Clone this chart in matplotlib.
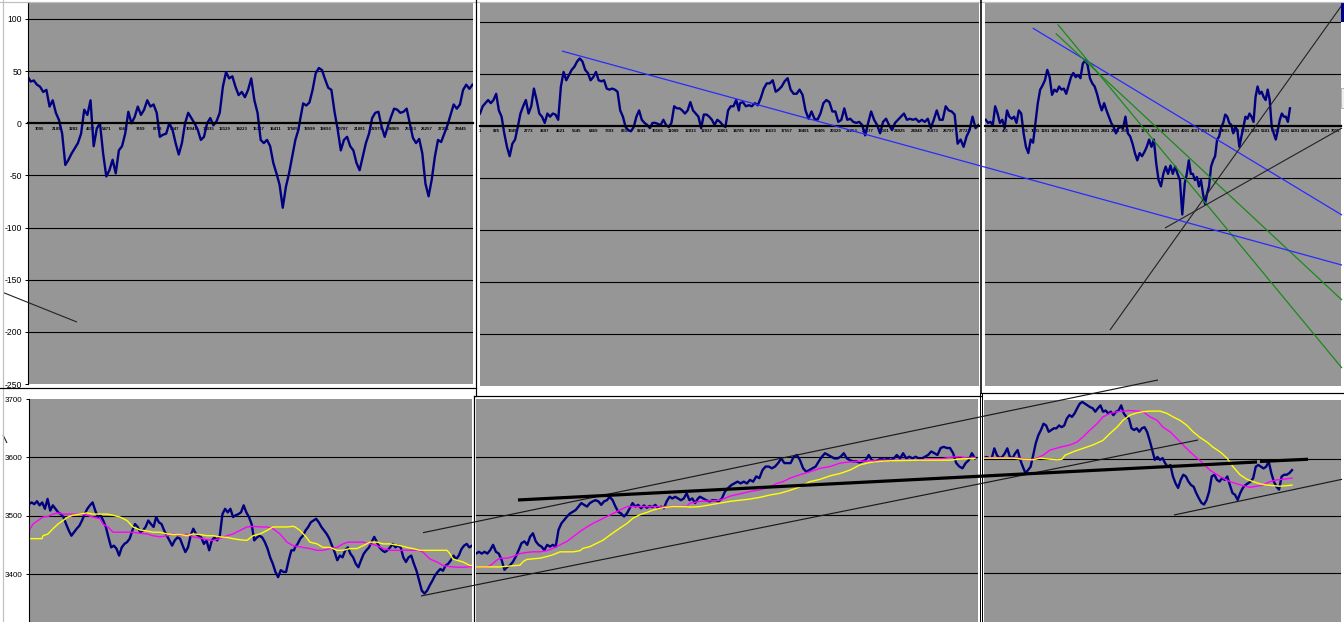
import numpy as np
import matplotlib
matplotlib.use("Agg")
import matplotlib.pyplot as plt
from matplotlib.patches import Rectangle

plt.rcParams["font.family"] = ["Liberation Sans", "DejaVu Sans"]

# ---------------- top row: spread oscillator, three windows ----------------
top1_a = [45, 40, 41, 37, 35, 30, 32, 16, 22, 10, 3, -10, -40, -35, -29, -24, -19, -10, 13, 8,
          22, -22, -5, 0, -29, -51, -45, -35, -48, -26, -22, -10, 11, 0, 6, 16, 8, 13, 22, 16,
          18, 10, -13, -11, -10, 0, -6, -19, -30, -19, 0, 10, 5, 0, -6, -16, -13, 0, 5, -2,
          2, 10, 35, 49, 43, 45, 35, 27, 30, 25, 32, 43, 22, 10, -16, -19, -16, -22, -38, -48,
          -59, -81, -61, -48, -32, -16, -6]
top1_b = [3, 19, 17, 20, 32, 48, 53, 51, 42, 34, 32, 11, -6, -26, -16, -13, -22, -26, -38, -45,
          -32, -19, -10, 5, 10, 11, -3, -13, -3, 6, 14, 13, 10, 11, 14, 0, -14, -19, -15, -29,
          -58, -70, -54, -32, -16, -18, -10, -2, 8, 18, 14, 18, 32, 37, 33, 37]
top2_a = [12, 19, 22, 25, 22, 25, 31, 15, 9, -7, -20, -29, -17, -13, -1, 12, 19, 25, 12, 19,
          36, 25, 12, 9, 3, 12, 9, 12, 11, 6, 38, 52, 44, 49, 54, 57, 62, 65, 62, 54,
          51, 44, 47, 52, 44, 43, 44, 36, 35, 36, 35, 33, 15, 9, -1, -4, -5, -1, 9, 15,
          6, 3, 1, -2, 3, 3, 2, 1, 6, 1, -1, 3, 19, 17, 17, 15, 12, 15, 23, 15,
          12, 9, -2, 11, 11, 9, 6, 1, 6, 4, 1, -1, 15, 19, 19, 25, 15]
top2_b = [22, 23, 19, 20, 19, 22, 20, 27, 36, 41, 41, 44, 33, 35, 38, 43, 46, 35, 31, 31,
          35, 30, 15, 7, 14, 7, 6, 12, 22, 25, 23, 14, 14, 4, 6, 17, 6, 7, 4, 3,
          4, 1, -9, 3, 14, 6, 1, -7, 4, 7, 1, -4, 3, 6, 9, 12, 6, 7, 6, 7,
          4, 6, 4, 7, -2, 6, 15, 6, 6, 19, 15, 14, 11, -17, -13, -20, -10, -4, 9, -2, 1]
top3_a = [6, 3, 4, 1, 19, 12, 3, 6, -2, 15, 9, 7, 9, 3, 15, 12, -7, -20, -26, -13,
          -16, 3, 22, 35, 39, 44, 54, 47, 30, 35, 33, 38, 35, 36, 31, 39, 47, 51, 47, 49,
          46, 60, 63, 59, 46, 41, 38, 31, 22, 15, 22, 15, 9, 3, -1, -7, -2, -1, -2, 9,
          -7, -10, -17, -26, -33, -26, -29, -25, -20, -13, -20, -13, -36, -52, -58, -46, -39, -46,
          -38, -46, -39, -46, -52, -85]
top3_b = [-55, -46, -33, -46, -46, -52, -49, -58, -52, -65, -75, -65, -58, -39, -33, -29,
          -13, -10, -1, 3, 11, 9, 3, 1, -7, -1, -4, -20, -10, -1, 9, 7, 12, 9, 4, 28,
          38, 31, 33, 28, 25, 35, 25, -1, -7, -13, -4, 6, 12, 9, 9, 4, 17]

top_grid = [100, 50, -50, -100, -150, -200]
top_yticks = [100, 50, 0, -50, -100, -150, -200, -250]
top1_xticks = [1095, 2189, 3283, 4377, 5471, 6565, 7659, 8753, 9847, 10941, 12035, 13129, 14223,
               15317, 16411, 17505, 18599, 19693, 20787, 21881, 22975, 24069, 25163, 26257,
               27351, 28445]
top2_xticks = [1, 925, 1849, 2773, 3697, 4621, 5545, 6469, 7393, 8317, 9241, 10165, 11089, 12013,
               12937, 13861, 14785, 15709, 16633, 17557, 18481, 19405, 20329, 21253, 22177,
               23101, 24025, 24949, 25873, 26797, 27721]
top3_xticks = [1, 201, 401, 601, 801, 1001, 1201, 1401, 1601, 1801, 2001, 2201, 2401, 2601, 2801,
               3001, 3201, 3401, 3601, 3801, 4001, 4201, 4401, 4601, 4801, 5001, 5201, 5401,
               5601, 5801, 6001, 6201, 6401, 6601, 6801, 7001]

# ---------------- bottom row: price with two moving averages ----------------
bot1_a = [3520, 3523, 3520, 3525, 3518, 3523, 3512, 3529, 3509, 3518, 3512, 3506, 3503, 3498, 3486,
          3475, 3466, 3472, 3478, 3483, 3492, 3503, 3512, 3518, 3523, 3509, 3498, 3501, 3492, 3481,
          3463, 3446, 3449, 3444, 3432, 3446, 3452, 3455, 3461, 3475, 3486, 3481, 3472, 3475, 3481,
          3492, 3486, 3481, 3498, 3489, 3486, 3475, 3466, 3458, 3449, 3458, 3463, 3461, 3449, 3438,
          3446, 3466, 3478, 3469, 3466, 3463, 3452, 3458, 3441, 3458, 3463, 3458, 3466, 3503, 3512,
          3506, 3512, 3498, 3501, 3503, 3506, 3518, 3506, 3498, 3486, 3458, 3463, 3466, 3463, 3455,
          3444, 3429, 3418, 3404, 3395, 3407, 3404, 3404, 3424, 3441, 3441]
bot1_b = [3446, 3452, 3461, 3466, 3475, 3481, 3489, 3492, 3495, 3489, 3481, 3475, 3469, 3461, 3449,
          3438, 3424, 3432, 3429, 3441, 3446, 3435, 3429, 3418, 3412, 3424, 3435, 3441, 3446, 3455,
          3464, 3455, 3446, 3441, 3438, 3441, 3446, 3452, 3446, 3449, 3446, 3429, 3421, 3429, 3432,
          3418, 3406, 3389, 3372, 3367, 3372, 3381, 3389, 3398, 3404, 3409, 3406, 3415, 3418, 3424,
          3432, 3426, 3432, 3443, 3449, 3452, 3446, 3449]
bot1_mag_x = [0, 4, 9, 14, 19, 24, 29, 34, 39, 44, 51, 58, 64, 71, 74, 79, 84, 91, 98, 104,
              111, 118, 124, 131, 138, 144, 151, 158, 164, 171, 178, 184, 191, 198, 204, 211, 218,
              224, 231, 238, 244, 251, 258, 264, 274, 281, 288, 294, 301, 308, 314, 319, 328, 334,
              341, 348, 354, 361, 371, 381, 389, 394, 401, 408, 414, 421, 428, 434, 443]
bot1_mag = [3475, 3486, 3492, 3498, 3499, 3503, 3505, 3503, 3503, 3503, 3503, 3501, 3498, 3495, 3486,
            3481, 3472, 3472, 3472, 3472, 3470, 3469, 3466, 3464, 3466, 3469, 3466, 3469, 3464, 3462,
            3459, 3458, 3461, 3466, 3469, 3475, 3481, 3482, 3481, 3481, 3478, 3469, 3455, 3449, 3446,
            3444, 3441, 3441, 3444, 3446, 3452, 3455, 3455, 3455, 3452, 3449, 3444, 3441, 3441, 3441,
            3441, 3438, 3426, 3421, 3415, 3413, 3412, 3412, 3413]
bot1_yel_x = [0, 4, 13, 14, 19, 24, 29, 34, 39, 44, 51, 58, 64, 71, 78, 84, 91, 98, 104, 111,
              118, 124, 131, 138, 144, 151, 158, 164, 171, 178, 184, 191, 198, 204, 211, 218, 224,
              231, 238, 244, 251, 258, 264, 266, 271, 276, 281, 288, 294, 301, 308, 314, 321, 328,
              334, 341, 348, 354, 361, 371, 378, 384, 391, 398, 408, 418, 421, 424, 428, 434, 441, 443]
bot1_yel = [3461, 3461, 3461, 3466, 3469, 3478, 3486, 3492, 3498, 3501, 3503, 3505, 3503, 3503, 3503,
            3501, 3498, 3492, 3481, 3476, 3474, 3472, 3472, 3469, 3468, 3468, 3466, 3469, 3468, 3466,
            3466, 3464, 3463, 3461, 3459, 3458, 3466, 3469, 3475, 3481, 3481, 3481, 3482, 3481, 3475,
            3466, 3455, 3452, 3446, 3446, 3441, 3441, 3444, 3444, 3449, 3455, 3455, 3452, 3452, 3449,
            3446, 3444, 3441, 3441, 3441, 3441, 3435, 3426, 3424, 3421, 3415, 3415]

bot2_a = [3434, 3437, 3434, 3437, 3434, 3440, 3449, 3437, 3434, 3423, 3406, 3411, 3414, 3420, 3429,
          3440, 3452, 3455, 3449, 3463, 3469, 3455, 3449, 3446, 3440, 3449, 3446, 3449, 3446, 3475,
          3486, 3492, 3498, 3503, 3506, 3509, 3515, 3521, 3518, 3515, 3521, 3524, 3526, 3524, 3518,
          3524, 3526, 3532, 3526, 3515, 3506, 3503, 3498, 3503, 3512, 3521, 3515, 3518, 3512, 3517,
          3513, 3516, 3514, 3518, 3512, 3515, 3512, 3524, 3532, 3529, 3532, 3529, 3526, 3529, 3538,
          3526, 3529, 3521, 3529]
bot2_b = [3532, 3529, 3526, 3524, 3526, 3526, 3524, 3529, 3541, 3547, 3552, 3555, 3558, 3555, 3558,
          3555, 3561, 3558, 3567, 3564, 3578, 3584, 3584, 3581, 3584, 3590, 3598, 3590, 3590, 3590,
          3601, 3604, 3595, 3581, 3575, 3578, 3581, 3584, 3593, 3601, 3607, 3604, 3601, 3598, 3598,
          3601, 3607, 3598, 3595, 3593, 3593, 3591, 3593, 3595, 3604, 3595, 3593, 3595, 3598, 3595,
          3598, 3595, 3598, 3604, 3598, 3607, 3598, 3601, 3598, 3601, 3598, 3598, 3601, 3604, 3610,
          3607, 3604, 3616, 3618, 3616, 3616, 3607, 3590, 3584, 3581, 3590, 3595, 3607, 3598]
bot2_mag_x = [0, 4, 11, 14, 17, 21, 24, 31, 37, 44, 51, 57, 64, 71, 77, 84, 91, 97, 104, 111,
              117, 124, 131, 137, 144, 151, 157, 171, 184, 197, 211, 214, 224, 234, 244, 254, 264,
              274, 284, 294, 301, 307, 314, 324, 334, 344, 354, 364, 374, 384, 394, 404, 424, 444,
              454, 464, 474, 484, 494, 499]
bot2_mag = [3411, 3411, 3411, 3413, 3417, 3423, 3426, 3426, 3429, 3434, 3436, 3437, 3437, 3439, 3443,
            3449, 3455, 3463, 3472, 3480, 3486, 3492, 3498, 3503, 3509, 3515, 3515, 3515, 3515, 3515,
            3516, 3521, 3524, 3525, 3526, 3533, 3537, 3541, 3544, 3549, 3555, 3558, 3564, 3570, 3575,
            3581, 3584, 3590, 3592, 3593, 3594, 3595, 3595, 3595, 3597, 3597, 3600, 3601, 3598, 3600]
bot2_yel_x = [0, 24, 37, 44, 47, 51, 64, 71, 77, 84, 97, 104, 107, 114, 121, 127, 134, 139, 144, 151,
              157, 164, 171, 177, 184, 191, 197, 211, 214, 224, 234, 244, 254, 264, 274, 284, 294,
              304, 314, 324, 334, 344, 354, 364, 374, 384, 394, 404, 414, 444, 474, 484, 494, 499]
bot2_yel = [3411, 3411, 3413, 3414, 3420, 3424, 3426, 3429, 3432, 3437, 3437, 3439, 3443, 3446, 3452,
            3457, 3466, 3472, 3478, 3486, 3495, 3501, 3505, 3509, 3512, 3514, 3515, 3515, 3514, 3515,
            3518, 3521, 3524, 3526, 3528, 3531, 3535, 3538, 3543, 3549, 3558, 3562, 3568, 3572, 3578,
            3587, 3591, 3593, 3594, 3595, 3595, 3597, 3598, 3598]

bot3 = [3601, 3603, 3601, 3601, 3618, 3606, 3601, 3603, 3609, 3618, 3603, 3601, 3609, 3615, 3598,
        3586, 3575, 3580, 3586, 3606, 3627, 3641, 3650, 3661, 3658, 3647, 3650, 3653, 3653, 3658,
        3655, 3658, 3670, 3676, 3673, 3679, 3688, 3696, 3699, 3696, 3693, 3690, 3688, 3682, 3688,
        3693, 3682, 3684, 3679, 3682, 3676, 3682, 3684, 3693, 3679, 3673, 3670, 3653, 3650, 3653,
        3647, 3653, 3655, 3647, 3632, 3615, 3598, 3603, 3598, 3601, 3592, 3586, 3589, 3569, 3557,
        3549, 3563, 3572, 3569, 3560, 3554, 3551, 3540, 3531, 3523, 3520, 3528, 3543, 3569, 3572,
        3563, 3560, 3566, 3563, 3569, 3554, 3540, 3537, 3528, 3540, 3549, 3554, 3557, 3560, 3566,
        3586, 3589, 3586, 3583, 3586, 3595, 3575, 3560, 3551, 3546, 3569, 3572, 3572, 3575, 3580]
bot3_mag_x = [0, 9, 23, 36, 46, 53, 59, 66, 76, 86, 93, 99, 106, 113, 119, 126, 133, 139, 146, 153,
              159, 166, 173, 179, 186, 193, 199, 206, 213, 219, 226, 233, 239, 246, 253, 259, 266,
              273, 279, 286, 293, 299, 308]
bot3_mag = [3601, 3602, 3601, 3601, 3598, 3601, 3606, 3615, 3620, 3624, 3629, 3638, 3650, 3661, 3673,
            3679, 3682, 3683, 3684, 3683, 3682, 3673, 3667, 3655, 3647, 3635, 3624, 3612, 3601, 3592,
            3580, 3572, 3566, 3560, 3556, 3553, 3550, 3552, 3554, 3560, 3563, 3564, 3566]
bot3_yel_x = [0, 16, 29, 39, 49, 56, 66, 73, 78, 81, 89, 99, 109, 119, 126, 133, 139, 146, 153, 159,
              166, 176, 183, 189, 196, 203, 209, 216, 223, 229, 236, 243, 249, 256, 263, 269, 276,
              283, 289, 296, 303, 308]
bot3_yel = [3601, 3601, 3601, 3599, 3598, 3601, 3599, 3598, 3599, 3606, 3612, 3618, 3624, 3632, 3644,
            3655, 3667, 3676, 3680, 3682, 3683, 3683, 3679, 3673, 3667, 3658, 3647, 3637, 3629, 3620,
            3612, 3601, 3586, 3572, 3564, 3560, 3556, 3554, 3553, 3552, 3553, 3554]

bot_grid = [3400, 3500, 3600]
bot_yticks = [3400, 3500, 3600, 3700]

# hand drawn trend lines, in the data units of the window they were drawn on: (x0, y0, x1, y1)
top1_lines = [(-1259, -162.4, 3515, -190.6)]
top2_lines = [(4688, 72.1, 49281, -133.7)]
top3_blue = [(953, 94.2, 7129, -85.6)]
top3_green = [(1452, 97.8, 7129, -232.7), (1412, 89.1, 7129, -167.3)]
top3_black = [(2496, -196.2, 7129, 116.3), (3594, -98.1, 7129, -1.9)]
bot1_lines = [(-26, 3638.4, -22, 3624.7)]
bot2_thin = [(-53, 3470, 682, 3733.3), (-55, 3360.9, 722, 3629.8)]
bot2_thick = [(42, 3526.4, 781, 3591.9), (784, 3592.8, 832, 3596.6)]
bot3_thin = [(190, 3501.7, 358, 3564)]

GRAY = "#969696"
NAVY = "#000080"
W, H = 1344, 622

fig = plt.figure(figsize=(W / 100, H / 100), dpi=100)
fig.patch.set_facecolor("white")


def panel(x0, y0, x1, y1, z):
    ax = fig.add_axes([x0 / W, 1 - y1 / H, (x1 - x0) / W, (y1 - y0) / H], zorder=z)
    ax.set_facecolor(GRAY)
    for s in ax.spines.values():
        s.set_visible(False)
    ax.tick_params(length=0, labelleft=False, labelbottom=False)
    return ax


def top_setup(ax, xlim, ylim, ticks):
    ax.set_xlim(*xlim)
    ax.set_ylim(*ylim)
    for g in top_grid:
        ax.axhline(g, color="k", lw=0.8, zorder=1)
    sp = ax.spines["bottom"]
    sp.set_visible(True)
    sp.set_position(("data", 0))
    sp.set_linewidth(1.6)
    ax.set_xticks(ticks)
    ax.set_xticklabels([str(t) for t in ticks], fontsize=3.1, fontweight="bold")
    ax.tick_params(axis="x", length=0, pad=2.4, labelbottom=True)
    ax.set_yticks([])


def bot_setup(ax, xlim, ylim):
    ax.set_xlim(*xlim)
    ax.set_ylim(*ylim)
    for g in bot_grid:
        ax.axhline(g, color="k", lw=0.8, zorder=1)
    ax.set_xticks([])
    ax.set_yticks([])


def draw_lines(ax, lines, color, lw):
    for x0, y0, x1, y1 in lines:
        ax.plot([x0, x1], [y0, y1], color=color, lw=lw, clip_on=False, zorder=4,
                solid_capstyle="butt")


# top row
t1 = panel(27.5, 3, 472.5, 384, 2)
top_setup(t1, (300, 29200), (-250, 115.3), top1_xticks)
t1.spines["left"].set_visible(True)
t1.spines["left"].set_linewidth(0.8)
t1.set_yticks(top_yticks)
t1.set_yticklabels([str(v) for v in top_yticks], fontsize=6.2)
t1.tick_params(axis="y", length=2, width=0.7, pad=2, labelleft=True)
x1 = np.concatenate([np.linspace(300, 17900, len(top1_a)), np.linspace(18000, 29200, len(top1_b))])
t1.plot(x1, top1_a + top1_b, color=NAVY, lw=1.7)
draw_lines(t1, top1_lines, "#222222", 0.8)

t2 = panel(480, 3, 978.5, 385.5, 6)
top_setup(t2, (0, 28500), (-249.5, 118.3), top2_xticks)
x2 = np.concatenate([np.linspace(0, 14800, len(top2_a)), np.linspace(14860, 28500, len(top2_b))])
t2.plot(x2, top2_a + top2_b, color=NAVY, lw=1.7)
draw_lines(t2, top2_lines, "#2a2aff", 0.9)

t3 = panel(985, 3, 1340.5, 385.5, 2)
top_setup(t3, (0, 7100), (-249.5, 118.3), top3_xticks)
x3 = np.concatenate([np.linspace(14, 3940, len(top3_a)), np.linspace(3990, 6090, len(top3_b))])
t3.plot(x3, top3_a + top3_b, color=NAVY, lw=1.7)
draw_lines(t3, top3_blue, "#2a2aff", 0.9)
draw_lines(t3, top3_green, "#1a8a1a", 0.9)
draw_lines(t3, top3_black, "#222222", 0.8)

# bottom row
b1 = panel(29, 399, 472, 622, 2)
bot_setup(b1, (0, 443), (3318.3, 3700))
b1.spines["left"].set_visible(True)
b1.spines["left"].set_linewidth(0.8)
b1.set_yticks(bot_yticks)
b1.set_yticklabels([str(v) for v in bot_yticks], fontsize=5.8)
b1.tick_params(axis="y", length=2, width=0.7, pad=2.5, labelleft=True)
xb1 = np.concatenate([np.linspace(0, 265, len(bot1_a)), np.linspace(266, 443, len(bot1_b))])
b1.plot(xb1, bot1_a + bot1_b, color=NAVY, lw=1.7)
b1.plot(bot1_mag_x, bot1_mag, color="#ff00ff", lw=1.0)
b1.plot(bot1_yel_x, bot1_yel, color="#ffff00", lw=1.0)
draw_lines(b1, bot1_lines, "#222222", 0.8)

b2 = panel(476, 399, 977.5, 622, 7)
bot_setup(b2, (0, 501.5), (3316, 3700.5))
xb2 = np.concatenate([np.linspace(0, 222, len(bot2_a)), np.linspace(224, 499, len(bot2_b))])
b2.plot(xb2, bot2_a + bot2_b, color=NAVY, lw=1.7)
b2.plot(bot2_mag_x, bot2_mag, color="#ff00ff", lw=1.0)
b2.plot(bot2_yel_x, bot2_yel, color="#ffff00", lw=1.0)
draw_lines(b2, bot2_thin, "#1a1a1a", 0.85)
draw_lines(b2, bot2_thick, "#000000", 2.3)

b3 = panel(984, 400, 1340.5, 622, 2)
bot_setup(b3, (0, 356.5), (3315, 3702.4))
b3.plot(np.linspace(0, 308, len(bot3)), bot3, color=NAVY, lw=1.7)
b3.plot(bot3_mag_x, bot3_mag, color="#ff00ff", lw=1.0)
b3.plot(bot3_yel_x, bot3_yel, color="#ffff00", lw=1.0)
draw_lines(b3, bot3_thin, "#1a1a1a", 0.85)

# sheet frames between the embedded charts (pixel layout)
ov = fig.add_axes([0, 0, 1, 1], zorder=4)
ov.set_xlim(0, W)
ov.set_ylim(H, 0)
ov.axis("off")
ov.patch.set_visible(False)
k = 0.72
ov.plot([2.5, 2.5], [0, H], color="#c0c0c0", lw=1.2 * k)
ov.plot([0, W], [1.5, 1.5], color="#c0c0c0", lw=1.2 * k)
ov.plot([475.5, 475.5], [0, 396], color="k", lw=1.2 * k)
ov.plot([0, 475.5], [387.5, 387.5], color="k", lw=1.2 * k)
ov.plot([473.5, 981], [395.5, 395.5], color="k", lw=1.2 * k)
ov.plot([473.5, 473.5], [395.5, H], color="k", lw=1.2 * k)
ov.plot([980.5, 980.5], [0, 393], color="k", lw=1.6 * k)
ov.plot([980.5, W], [392.5, 392.5], color="k", lw=1.2 * k)
ov.plot([979.5, 979.5], [393, H], color="k", lw=1.0 * k)
ov.plot([982, 982], [393, H], color="k", lw=1.0 * k)
ov.add_patch(Rectangle((1341, 3), 3, 19, color=NAVY, lw=0))
ov.add_patch(Rectangle((1340.5, 88), 3.5, 20, facecolor="#f0f0f0", edgecolor="#a0a0a0", lw=0.5))

fig.savefig("out.png", dpi=100, facecolor="white")
